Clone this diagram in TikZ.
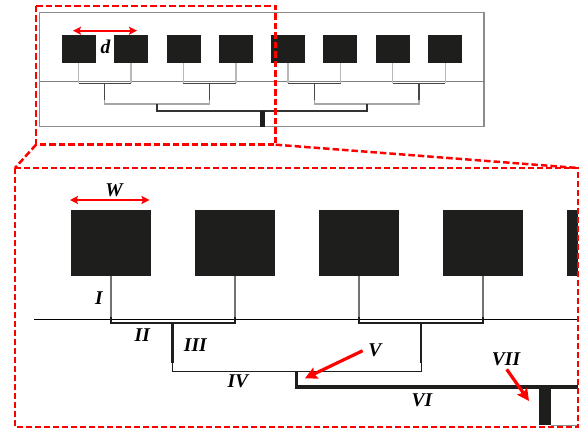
\documentclass[tikz,border=0pt]{standalone}
\usepackage{fontspec}
\setmainfont{Liberation Serif}
\usetikzlibrary{arrows.meta}
\definecolor{blk}{HTML}{1E1E1C}
\tikzset{
  chip/.style={fill=blk,draw=none},
  frameline/.style={draw=black!45,line width=1.1pt},
  redbox/.style={draw=red,line width=2.5pt,dash pattern=on 6.5pt off 3pt},
  redthin/.style={draw=red,line width=2pt,dash pattern=on 6pt off 3pt},
  dim/.style={draw=red,line width=2.2pt,{Stealth[length=8pt,width=8pt,inset=1.5pt]}-{Stealth[length=8pt,width=8pt,inset=1.5pt]}},
  pointer/.style={draw=red,line width=3.2pt,-{Stealth[length=12pt,width=12pt,inset=2pt]}},
  lab/.style={font=\bfseries\itshape\fontsize{19.5}{19.5}\selectfont,text=black,inner sep=0pt},
  t1/.style={draw=black!28,line width=1.2pt},
  t2/.style={draw=black!72,line width=1.2pt},
  t3/.style={draw=black!35,line width=1.2pt},
  t4/.style={draw=black!80,line width=1.8pt}
}
\begin{document}
\begin{tikzpicture}[x=1pt,y=-1pt]
\useasboundingbox (0,0) rectangle (579,428);
% small overview
\draw[frameline] (39.7,12.7) rectangle (484,126.7);
\draw[draw=black!50,line width=0.6pt] (39.7,81.3) -- (484,81.3);
\foreach \n/\x in {a/61.7,b/114,c/166.7,d/218.7,e/271.3,f/323.3,g/376,h/428.3}
  \path[chip] (\x,35) rectangle ++(34,28);
\foreach \l/\r in {78.7/131,183.3/236,288/340.7,392.7/445.3}{
  \draw[t1] (\l,63) -- (\l,83.3);
  \draw[t1] (\r,63) -- (\r,83.3);
  \draw[t2] (\l,83.3) -- (\r,83.3);
}
\foreach \l/\r in {104.3/209.7,314.3/419}{
  \draw[t2] (\l,83.3) -- (\l,100);
  \draw[t2] (\r,83.3) -- (\r,100);
  \draw[t3] (\l,100) -- (\l,104) -- (\r,104) -- (\r,100);
}
\draw[t4] (157.3,104) -- (157.3,110.7) -- (366.7,110.7) -- (366.7,104);
\path[chip] (259.5,110.7) rectangle (264.5,126.7);
\node[lab] (dlab) at (105.5,47) {d};
\coordinate (dl) at (73,30.7);
\coordinate (dr) at (137,30.7);
\draw[dim] (dl) -- (dr);
% zoomed view
\foreach \x in {71,195,319,443,567}
  \path[chip] (\x,210) rectangle ({min(\x+80,578)},276);
\draw[draw=black,line width=0.8pt] (34,319.5) -- (578,319.5);
\foreach \l/\r in {111/235,359/483}{
  \draw[draw=black!55,line width=1.2pt] (\l,276) -- (\l,318);
  \draw[draw=black!55,line width=1.2pt] (\r,276) -- (\r,318);
  \draw[draw=blk,line width=1.8pt] (\l,317) -- (\l,323.3) -- (\r,323.3) -- (\r,317);
}
\draw[draw=blk,line width=2.2pt] (172.5,323.3) -- (172.5,363);
\draw[draw=blk,line width=2.2pt] (421.3,323.3) -- (421.3,363);
\draw[draw=blk,line width=1pt] (172.8,363) -- (172.8,371.4) -- (421.3,371.4) -- (421.3,363);
\draw[draw=blk,line width=3.4pt] (296.7,371.4) -- (296.7,387) -- (578,387);
\path[chip] (539.3,387) rectangle (551.3,425);
\draw[draw=black!45,line width=1pt] (551.3,425) -- (578,425);
\node[lab] (I) at (99,298) {I};
\node[lab] (II) at (142.3,335) {II};
\node[lab] (III) at (195.3,345) {III};
\node[lab] (IV) at (237.8,381) {IV};
\node[lab] (V) at (374.8,350) {V};
\node[lab] (VI) at (422,400) {VI};
\node[lab] (VII) at (506,359.3) {VII};
\node[lab] (W) at (114,190) {W};
\coordinate (wl) at (70,200);
\coordinate (wr) at (149.5,200);
\draw[dim] (wl) -- (wr);
\coordinate (vs) at (362.7,350.7);
\coordinate (ve) at (305,378.3);
\coordinate (vis) at (506.7,369.3);
\coordinate (vie) at (529,401);
\draw[pointer] (vs) -- (ve);
\draw[pointer] (vis) -- (vie);
% red frames
\coordinate (a) at (36,6);
\coordinate (b) at (275.7,6);
\coordinate (c) at (275.7,144.7);
\coordinate (d) at (36,144.7);
\coordinate (p) at (15,168);
\coordinate (q) at (578,168);
\coordinate (r) at (578,427);
\coordinate (s) at (15,427);
\draw[redbox] (a) -- (b) -- (c) -- (d) -- cycle;
\draw[redbox] (d) -- (p);
\draw[redbox] (c) -- (q);
\draw[redthin] (p) -- (q) -- (r) -- (s) -- cycle;
\end{tikzpicture}
\end{document}
